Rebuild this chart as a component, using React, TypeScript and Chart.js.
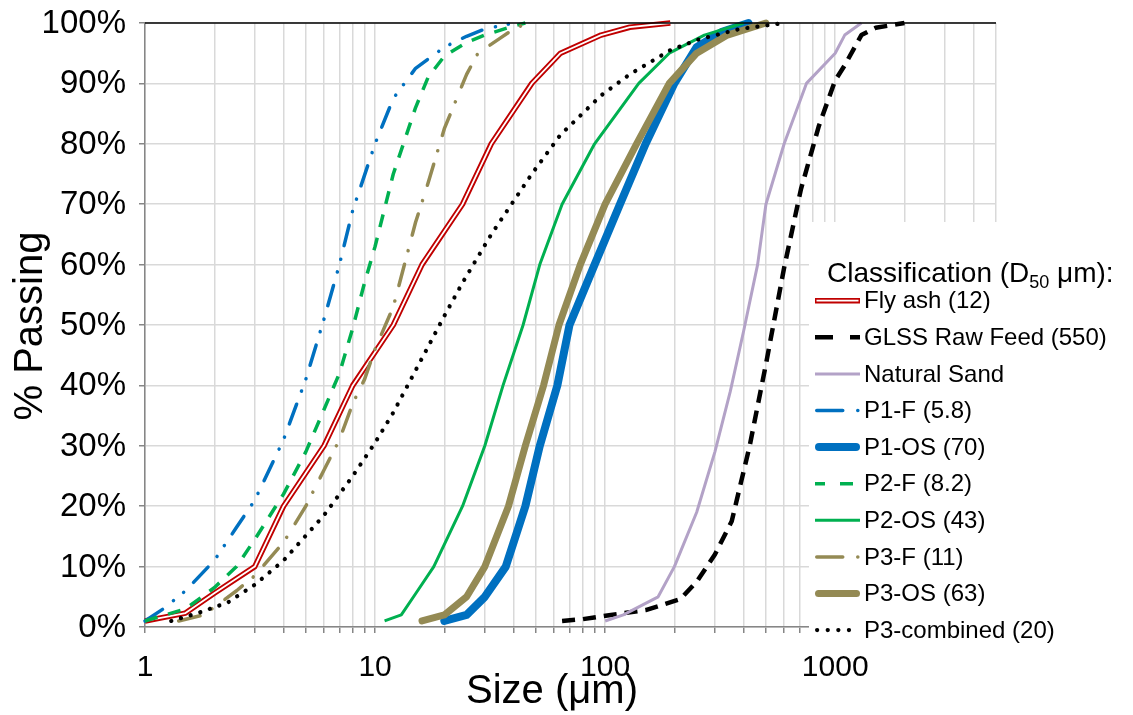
import React, { useEffect, useRef } from "react";
import { Chart, registerables } from "chart.js";

Chart.register(...registerables);

// ---------- data ----------
const flyAshX = [1, 1.5, 2, 3, 4, 6, 8, 12, 16, 24, 32, 48, 64, 96, 128, 192];
const flyAshY = [1, 2.3, 5.6, 10, 20, 30, 40, 50, 60, 70, 80, 90, 95, 98, 99.3, 100];

const glssX = [65, 80, 106, 150, 212, 250, 300, 355, 425, 500, 600, 710, 850, 1000, 1100, 1300, 1500, 2000];
const glssY = [1, 1.3, 2, 2.8, 4.6, 7.5, 12, 17.5, 30, 43.5, 59.5, 72.5, 83, 90.5, 93, 98, 99.2, 100];

const sandX = [100, 120, 170, 200, 250, 300, 350, 400, 460, 500, 600, 750, 1000, 1100, 1300];
const sandY = [1, 2, 5, 10, 19, 29, 39, 49, 60, 70, 80, 90, 95, 98, 100];

const p1fX = [1, 1.2, 1.5, 2, 2.5, 3, 4, 5, 6, 7, 8, 10, 12, 15, 20, 25, 30, 40];
const p1fY = [1, 3, 6, 11, 16.5, 21, 31, 41, 51, 60, 69, 80, 87.5, 92.5, 96, 97.8, 99, 100];

const p1osX = [20, 25, 30, 37, 45, 52, 62, 70, 90, 116, 150, 200, 250, 320, 420];
const p1osY = [1, 2, 5, 10, 20, 30, 40, 50, 60, 70, 80, 90, 96, 98.5, 100];

const p2fX = [1, 1.5, 2, 2.5, 3, 4, 5, 6, 7, 8, 9, 10, 12, 15, 17, 20, 25, 30, 40, 45];
const p2fY = [1, 3, 6.5, 10, 14.5, 22, 29, 36, 42, 49.5, 57, 63, 75, 86, 91, 94.5, 96.8, 98, 99.5, 100];

const p2osX = [11, 13, 15, 18, 24, 30, 36, 44, 52, 65, 90, 140, 190, 270, 400];
const p2osY = [1, 2, 5.5, 10, 20, 30, 40, 50, 60, 70, 80, 90, 95, 98, 100];

const p3fX = [1.4, 1.8, 2.5, 3, 4, 5, 6, 7, 8, 9, 10, 12, 15, 17, 20, 25, 28, 35, 40, 46];
const p3fY = [1, 2, 6, 8.5, 14, 20, 26, 31, 37, 41, 46, 53, 67, 73.5, 82.5, 91.5, 95, 97.5, 99, 100];

const p3osX = [16, 20, 25, 30, 38, 45, 54, 63, 78, 100, 137, 190, 250, 340, 500];
const p3osY = [1, 2, 5, 10, 20, 30, 40, 50, 60, 70, 80, 90, 95, 98, 100];

const p3cX = [1.3, 1.7, 2.3, 3, 4, 6, 8, 10, 12, 16, 20, 24, 32, 48, 64, 96, 128, 192, 256, 384, 600];
const p3cY = [1, 2.3, 4.1, 7, 11, 18.5, 25, 30.5, 35.5, 44.5, 51.5, 57, 65, 75, 81.5, 88, 91.5, 95.5, 97.3, 99, 100];

const xTickLabels = [1, 10, 100, 1000];
const yTickValues = [0, 10, 20, 30, 40, 50, 60, 70, 80, 90, 100];
const xGridDecades = [1, 10, 100, 1000];
const xMax = 5000;

const legendTitle = "Classification (D";
const legendTitleSub = "50";
const legendTitleTail = " μm):";
const seriesNames = [
  "Fly ash (12)",
  "GLSS Raw Feed (550)",
  "Natural Sand",
  "P1-F (5.8)",
  "P1-OS (70)",
  "P2-F (8.2)",
  "P2-OS (43)",
  "P3-F (11)",
  "P3-OS (63)",
  "P3-combined (20)",
];

const FONT = '"Liberation Sans", Arial, Helvetica, sans-serif';

type Style = {
  color: string;
  width: number;
  dash: number[];
  cap: CanvasLineCap;
  legendDash: number[];
  double?: boolean;
};

const styles: Style[] = [
  { color: "#C00000", width: 5.5, dash: [], cap: "butt", legendDash: [], double: true },
  { color: "#000000", width: 4.5, dash: [13, 8], cap: "butt", legendDash: [18, 17] },
  { color: "#B3A2C7", width: 3, dash: [], cap: "butt", legendDash: [] },
  { color: "#0070C0", width: 3.5, dash: [21, 14, 0.1, 13, 0.1, 14], cap: "round", legendDash: [26, 15, 0.1, 100] },
  { color: "#0070C0", width: 8, dash: [], cap: "round", legendDash: [] },
  { color: "#00B050", width: 3.5, dash: [13, 11], cap: "butt", legendDash: [10, 15, 13, 20] },
  { color: "#00B050", width: 3, dash: [], cap: "butt", legendDash: [] },
  { color: "#948A54", width: 3.5, dash: [22, 14, 0.1, 16], cap: "round", legendDash: [26, 15, 0.1, 100] },
  { color: "#948A54", width: 7, dash: [], cap: "round", legendDash: [] },
  { color: "#000000", width: 4.2, dash: [0.1, 10], cap: "round", legendDash: [0.1, 10.5] },
];

const seriesData: [number[], number[]][] = [
  [flyAshX, flyAshY],
  [glssX, glssY],
  [sandX, sandY],
  [p1fX, p1fY],
  [p1osX, p1osY],
  [p2fX, p2fY],
  [p2osX, p2osY],
  [p3fX, p3fY],
  [p3osX, p3osY],
  [p3cX, p3cY],
];

function pts(xs: number[], ys: number[]) {
  return xs.map((x, i) => ({ x, y: ys[i] }));
}

const overlayPlugin = {
  id: "overlay",
  afterDraw(chart: any) {
    const ctx: CanvasRenderingContext2D = chart.ctx;
    const { left, right, top } = chart.chartArea;
    const xs = chart.scales.x;
    const ys = chart.scales.y;
    ctx.save();

    // top border
    ctx.strokeStyle = "#000";
    ctx.lineWidth = 1.5;
    ctx.beginPath();
    ctx.moveTo(left, top);
    ctx.lineTo(right, top);
    ctx.stroke();

    ctx.fillStyle = "#000";
    // y tick labels
    ctx.font = `33px ${FONT}`;
    ctx.textAlign = "right";
    ctx.textBaseline = "middle";
    yTickValues.forEach((v) => {
      ctx.fillText(`${v}%`, left - 19, ys.getPixelForValue(v) + 1);
    });
    // x tick labels
    ctx.font = `30px ${FONT}`;
    ctx.textAlign = "center";
    xTickLabels.forEach((v) => {
      ctx.fillText(String(v), xs.getPixelForValue(v), 668);
    });

    // axis titles
    ctx.font = `40px ${FONT}`;
    ctx.textBaseline = "alphabetic";
    ctx.fillText("Size (μm)", 552, 703);
    ctx.save();
    ctx.translate(42, 326);
    ctx.rotate(-Math.PI / 2);
    ctx.fillText("% Passing", 0, 0);
    ctx.restore();

    // legend box
    ctx.fillStyle = "#fff";
    ctx.fillRect(809, 222, 1133 - 809, 648 - 222);

    ctx.fillStyle = "#000";
    ctx.textAlign = "left";
    ctx.textBaseline = "alphabetic";
    ctx.font = `28px ${FONT}`;
    let tx = 827;
    const ty = 282;
    ctx.fillText(legendTitle, tx, ty);
    tx += ctx.measureText(legendTitle).width;
    ctx.font = `18px ${FONT}`;
    ctx.fillText(legendTitleSub, tx, ty + 6);
    tx += ctx.measureText(legendTitleSub).width;
    ctx.font = `28px ${FONT}`;
    ctx.fillText(legendTitleTail, tx, ty);

    ctx.font = `24px ${FONT}`;
    ctx.textBaseline = "middle";
    seriesNames.forEach((name, i) => {
      const y = 300.7 + i * 36.6;
      const st = styles[i];
      ctx.save();
      ctx.strokeStyle = st.color;
      ctx.lineWidth = st.width;
      ctx.lineCap = st.cap;
      ctx.setLineDash(st.legendDash);
      const x0 = st.cap === "round" ? 816.5 + st.width / 2 - 1.5 : 815;
      const x1 = st.cap === "round" ? 860 - st.width / 2 : 860;
      ctx.beginPath();
      ctx.moveTo(x0, y);
      ctx.lineTo(x1, y);
      ctx.stroke();
      if (st.double) {
        ctx.strokeStyle = "#fff";
        ctx.lineWidth = 1.8;
        ctx.beginPath();
        ctx.moveTo(x0 + 1.5, y);
        ctx.lineTo(x1 - 1.5, y);
        ctx.stroke();
      }
      ctx.restore();
      ctx.fillStyle = "#000";
      ctx.fillText(name, 864, y + 1);
    });

    ctx.restore();
  },
};

export default function App() {
  const canvasRef = useRef<HTMLCanvasElement | null>(null);

  useEffect(() => {
    if (!canvasRef.current) return;
    const n = seriesData.length;
    const datasets: any[] = [];
    seriesData.forEach(([xs, ys], i) => {
      const st = styles[i];
      datasets.push({
        label: seriesNames[i],
        data: pts(xs, ys),
        borderColor: st.color,
        backgroundColor: st.color,
        borderWidth: st.width,
        borderDash: st.dash,
        borderCapStyle: st.cap,
        borderJoinStyle: "round",
        pointRadius: 0,
        pointHoverRadius: 0,
        tension: 0,
        fill: false,
        clip: false,
        order: (n - i) * 2,
      });
      if (st.double) {
        datasets.push({
          label: seriesNames[i] + " core",
          data: pts(xs, ys),
          borderColor: "#ffffff",
          borderWidth: 1.8,
          borderJoinStyle: "round",
          pointRadius: 0,
          tension: 0,
          fill: false,
          clip: false,
          order: (n - i) * 2 - 1,
        });
      }
    });

    const gridTicks: number[] = [];
    xGridDecades.forEach((d) => {
      for (let k = 1; k <= 9; k++) {
        const v = d * k;
        if (v <= xMax) gridTicks.push(v);
      }
    });
    if (gridTicks[gridTicks.length - 1] !== xMax) gridTicks.push(xMax);

    const chart = new Chart(canvasRef.current, {
      type: "line",
      data: { datasets },
      options: {
        responsive: false,
        animation: false,
        events: [],
        layout: { padding: { left: 139, top: 23, right: 137, bottom: 82 } },
        plugins: { legend: { display: false }, tooltip: { enabled: false }, title: { display: false } },
        scales: {
          x: {
            type: "logarithmic",
            min: 1,
            max: xMax,
            ticks: { display: false },
            afterBuildTicks: (scale: any) => {
              scale.ticks = gridTicks.map((v) => ({ value: v }));
            },
            grid: { color: "#D9D9D9", lineWidth: 1.5, tickLength: 6, tickColor: "#868686", drawTicks: true },
            border: { color: "#868686", width: 1.5 },
          },
          y: {
            type: "linear",
            min: 0,
            max: 100,
            ticks: { display: false, stepSize: 10 },
            grid: { color: "#D9D9D9", lineWidth: 1.5, tickLength: 6, tickColor: "#868686", drawTicks: true },
            border: { color: "#868686", width: 1.5 },
          },
        },
      } as any,
      plugins: [overlayPlugin],
    });
    return () => chart.destroy();
  }, []);

  return (
    <div style={{ position: "fixed", left: 0, top: 0, width: 1133, height: 715, background: "#fff" }}>
      <canvas ref={canvasRef} width={1133} height={715} style={{ display: "block" }} />
    </div>
  );
}
